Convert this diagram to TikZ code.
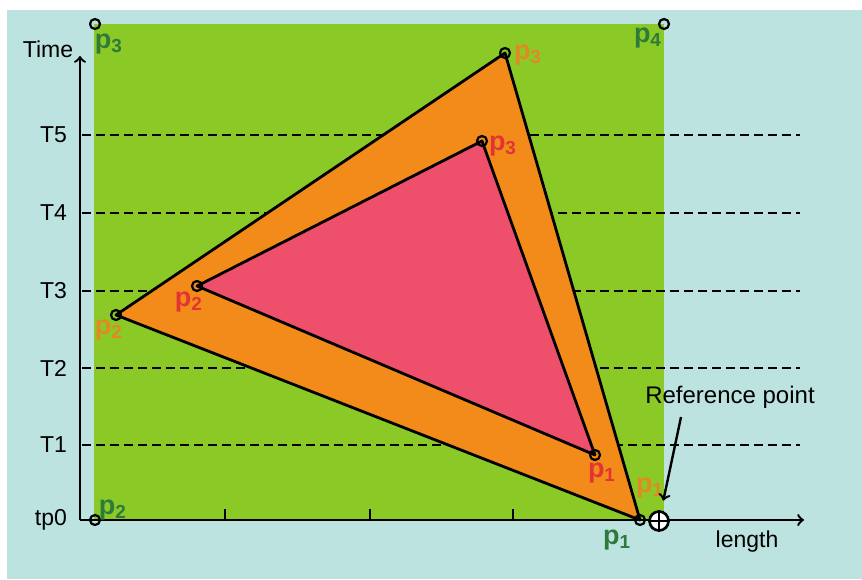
\documentclass[tikz,border=0pt]{standalone}
\usepackage{fontspec}
\setmainfont{Liberation Sans}
\definecolor{fondo}{RGB}{189,227,225}
\definecolor{verde}{RGB}{139,201,38}
\definecolor{naranja}{RGB}{243,139,26}
\definecolor{rojo}{RGB}{238,79,106}
\definecolor{etqverde}{RGB}{46,122,60}
\definecolor{etqnaranja}{RGB}{226,136,36}
\definecolor{etqrojo}{RGB}{226,52,52}
\tikzset{
  vert/.style={circle, draw=black, line width=1.1pt, inner sep=0pt, minimum size=5pt},
  etq/.style={font=\fontsize{13.5}{15}\selectfont\bfseries, inner sep=0pt},
  nivel/.style={dashed, dash pattern=on 4.5pt off 2.5pt, line width=1pt},
  lado/.style={draw=black, line width=1.4pt, line join=round}
}
\begin{document}
\begin{tikzpicture}[x=0.5pt, y=-0.5pt, font=\fontsize{11.5}{13}\selectfont]
			\useasboundingbox (0,0) rectangle (862,579);
			\fill[white] (0,0) rectangle (862,579);
			\fill[fondo] (7,10) rectangle (862,579);
			\fill[verde] (94,24) rectangle (664,520);
			
			% Niveles de tiempo
			\foreach \y/\t in {445/T1,368/T2,291/T3,213/T4,135/T5}{
				\draw[nivel] (82,\y) -- (800,\y);
				\node[anchor=east] (lbl\t) at (74,\y) {\t};
			}
			
			\coordinate (a1) at (640,520);
			\coordinate (a2) at (116,315);
			\coordinate (a3) at (505,53);
			\coordinate (b1) at (595,455);
			\coordinate (b2) at (197,286);
			\coordinate (b3) at (482,141);
			\filldraw[naranja, lado] (a1) -- (a2) -- (a3) -- cycle;
			\filldraw[rojo, lado] (b1) -- (b2) -- (b3) -- cycle;
			
			% Ejes
			\coordinate (o) at (80,520);
			\coordinate (ejey) at (80,56);
			\coordinate (ejex) at (804,520);
			\draw[line width=1.2pt, ->] (o) -- (ejey);
			\draw[line width=1.2pt, ->] (o) -- (ejex);
			\foreach \x in {225,370,513}
				\draw[line width=1.1pt] (\x,520) -- (\x,509);
			\node (time) at (48,49) {Time};
			\node[anchor=east] (tp0) at (74,520) {tp0};
			\node (length) at (747,542) {length};
			
			\node[vert] (va1) at (a1) {};
			\node[vert] (va2) at (a2) {};
			\node[vert] (va3) at (a3) {};
			\node[vert] (vb1) at (b1) {};
			\node[vert] (vb2) at (b2) {};
			\node[vert] (vb3) at (b3) {};
			\node[vert] (vc2) at (95,520) {};
			\node[vert] (vc3) at (95,24) {};
			\node[vert] (vc4) at (664,24) {};
			
			\node[etq, etqnaranja] (la1) at (650,488) {p\textsubscript{1}};
			\node[etq, etqnaranja] (la2) at (109,330) {p\textsubscript{2}};
			\node[etq, etqnaranja] (la3) at (528,55) {p\textsubscript{3}};
			\node[etq, etqrojo] (lb1) at (602,473) {p\textsubscript{1}};
			\node[etq, etqrojo] (lb2) at (189,302) {p\textsubscript{2}};
			\node[etq, etqrojo] (lb3) at (503,146) {p\textsubscript{3}};
			\node[etq, etqverde] (lc1) at (617,540) {p\textsubscript{1}};
			\node[etq, etqverde] (lc2) at (113,510) {p\textsubscript{2}};
			\node[etq, etqverde] (lc3) at (109,44) {p\textsubscript{3}};
			\node[etq, etqverde] (lc4) at (648,38) {p\textsubscript{4}};
			
			% Punto de referencia
			\node[circle, draw, fill=white, line width=1.3pt, inner sep=0pt, minimum size=9.5pt] (ref) at (659,521) {};
			\draw[line width=1.2pt] (ref.north) -- (ref.south) (ref.west) -- (ref.east);
			\node[font=\fontsize{12}{14}\selectfont] (txtref) at (730,397) {Reference point};
			\coordinate (flecha) at (681,417);
			\draw[line width=1.2pt, ->, shorten >=5pt] (flecha) -- (ref);
		\end{tikzpicture}
\end{document}
